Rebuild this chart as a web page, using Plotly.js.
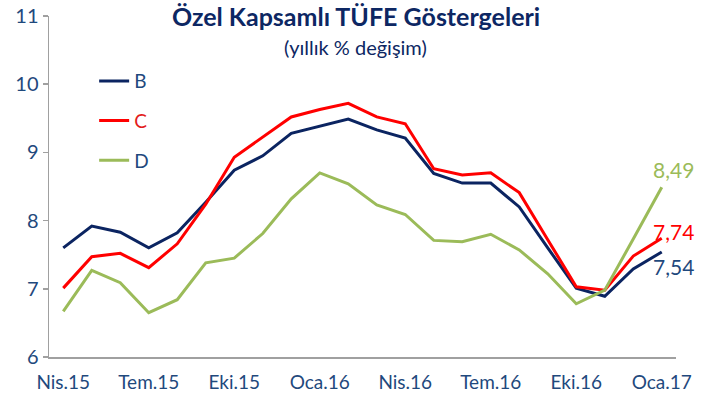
<!DOCTYPE html>
<html>
<head>
<meta charset="utf-8">
<script src="https://cdn.plot.ly/plotly-3.0.1.min.js"></script>
<style>html,body{margin:0;padding:0;background:#fff;}#chart{width:705px;height:400px;}</style>
</head>
<body>
<div id="chart"></div>
<script>
const months = ['Nis.15','May.15','Haz.15','Tem.15','Ağu.15','Eyl.15','Eki.15','Kas.15','Ara.15','Oca.16','Şub.16','Mar.16','Nis.16','May.16','Haz.16','Tem.16','Ağu.16','Eyl.16','Eki.16','Kas.16','Ara.16','Oca.17'];
const tickLabels = ['Nis.15','Tem.15','Eki.15','Oca.16','Nis.16','Tem.16','Eki.16','Oca.17'];
const seriesB = [7.60, 7.92, 7.83, 7.60, 7.82, 8.27, 8.74, 8.95, 9.28, 9.38, 9.49, 9.33, 9.21, 8.69, 8.55, 8.55, 8.20, 7.60, 7.01, 6.89, 7.29, 7.54];
const seriesC = [7.01, 7.47, 7.52, 7.31, 7.66, 8.24, 8.93, 9.23, 9.52, 9.63, 9.72, 9.52, 9.42, 8.76, 8.67, 8.70, 8.41, 7.72, 7.03, 6.98, 7.48, 7.74];
const seriesD = [6.67, 7.27, 7.09, 6.65, 6.84, 7.38, 7.45, 7.81, 8.32, 8.70, 8.54, 8.23, 8.09, 7.71, 7.69, 7.80, 7.57, 7.22, 6.78, 6.98, 7.73, 8.49];
const seriesNames = ['B', 'C', 'D'];

const FONT = 'Lato, "Open Sans", sans-serif';
const navy = '#0b2461';
const labelBlue = '#1f497d';
const red = '#ff0000';
const green = '#9bbb59';

const colors = [navy, red, green];
const textColors = [labelBlue, '#e31b1b', labelBlue];
const all = [seriesB, seriesC, seriesD];

const traces = all.map((s, i) => ({
  type: 'scatter', mode: 'lines', x: months, y: s,
  name: '<span style="color:' + textColors[i] + '">' + seriesNames[i] + '</span>',
  legendgroup: seriesNames[i],
  line: {color: colors[i], width: 3},
  hoverinfo: 'skip'
}));

const fmt = v => v.toFixed(2).replace('.', ',');
const last = months.length - 1;
const endShift = [-15, 7, 18];
const endColors = [labelBlue, red, green];
const annotations = all.map((s, i) => ({
  x: months[last], y: s[last], xref: 'x', yref: 'y',
  text: fmt(s[last]), showarrow: false,
  xanchor: 'left', xshift: -11, yshift: endShift[i],
  font: {family: FONT, size: 21, color: endColors[i]}
}));
annotations.push({
  xref: 'paper', yref: 'paper', x: 0.489, y: 1.0, yshift: 0,
  xanchor: 'center', yanchor: 'middle',
  text: '<b>Özel Kapsamlı TÜFE Göstergeleri</b>', showarrow: false,
  font: {family: FONT, size: 25, color: '#0d2763', weight: 900}
});
annotations.push({
  xref: 'paper', yref: 'paper', x: 0.489, y: 0.91,
  xanchor: 'center', yanchor: 'middle',
  text: '(yıllık % değişim)', showarrow: false,
  font: {family: FONT, size: 20, color: '#0d2763'}
});

const boundaryTicks = [];
for (let k = 0; k < tickLabels.length; k++) boundaryTicks.push(months.indexOf(tickLabels[k]) - 0.5);

const layout = {
  width: 705, height: 400,
  margin: {l: 49, r: 29, t: 16, b: 43},
  paper_bgcolor: '#fff', plot_bgcolor: '#fff',
  font: {family: FONT, color: labelBlue},
  showlegend: true,
  legend: {
    x: 0.072, y: 0.865, xanchor: 'left', yanchor: 'top',
    bgcolor: 'rgba(0,0,0,0)', traceorder: 'grouped', tracegroupgap: 12,
    font: {family: FONT, size: 19, color: labelBlue}
  },
  xaxis: {
    type: 'category', range: [-0.5, 21.5],
    tickmode: 'array', tickvals: tickLabels, ticktext: tickLabels,
    ticks: '', showgrid: false, zeroline: false,
    showline: true, linecolor: '#a0a0a0', linewidth: 1.5,
    ticklabelstandoff: 8,
    tickfont: {family: FONT, size: 19, color: labelBlue},
    fixedrange: true
  },
  xaxis2: {
    overlaying: 'x', anchor: 'y', side: 'bottom',
    type: 'linear', range: [-0.5, 21.5],
    tickmode: 'array', tickvals: boundaryTicks,
    ticks: 'outside', ticklen: 5, tickwidth: 1.5, tickcolor: '#a0a0a0',
    showticklabels: false, showgrid: false, zeroline: false, showline: false
  },
  yaxis: {
    range: [6, 11], tickmode: 'array', tickvals: [6, 7, 8, 9, 10, 11],
    ticks: 'outside', ticklen: 5, tickwidth: 1.5, tickcolor: '#a0a0a0',
    showgrid: false, zeroline: false,
    showline: true, linecolor: '#a0a0a0', linewidth: 1.5,
    tickfont: {family: FONT, size: 20, color: labelBlue},
    fixedrange: true
  },
  annotations: annotations
};

Plotly.newPlot('chart', traces, layout, {displayModeBar: false, staticPlot: true});
</script>
</body>
</html>
